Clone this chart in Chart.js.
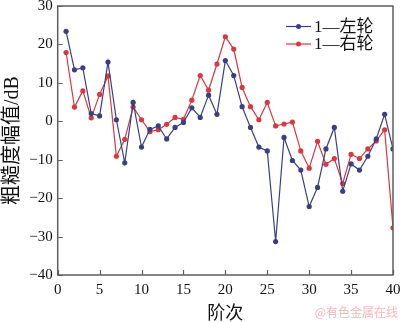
<!DOCTYPE html>
<html>
<head>
<meta charset="utf-8">
<script src="https://cdn.jsdelivr.net/npm/chart.js@4.4.1/dist/chart.umd.min.js"></script>
<style>
  html, body { margin: 0; padding: 0; background: #fff; }
  #wrap { width: 400px; height: 322px; position: relative; }
</style>
</head>
<body>
<div id="wrap"><canvas id="c" width="400" height="322"></canvas></div>
<script>
// Harmonic order (阶次)
const orders = [1, 2, 3, 4, 5, 6, 7, 8, 9, 10, 11, 12, 13, 14, 15, 16, 17, 18, 19, 20,
                21, 22, 23, 24, 25, 26, 27, 28, 29, 30, 31, 32, 33, 34, 35, 36, 37, 38, 39, 40];

// Roughness amplitude, dB — left wheel
const leftWheel = [23.4, 13.4, 13.9, 2.0, 1.4, 15.4, 0.4, -10.8, 4.9, -6.7,
                   -2.1, -1.2, -4.6, -1.6, -0.3, 3.5, 1.0, 6.8, 1.8, 15.8,
                   11.9, 3.8, -1.6, -6.7, -7.7, -31.3, -4.2, -10.2, -12.7, -22.2,
                   -17.2, -7.2, -1.6, -18.2, -11.1, -12.7, -9.1, -4.6, 1.8, -7.2];

// Roughness amplitude, dB — right wheel
const rightWheel = [17.9, 3.7, 7.9, 0.9, 7.0, 11.8, -9.1, -4.7, 3.7, 0.4,
                    -2.7, -2.2, -0.8, 1.0, 0.5, 5.5, 11.9, 8.1, 14.9, 22.0,
                    18.8, 8.8, 3.8, 0.4, 4.9, -1.2, -0.7, -0.2, -7.7, -12.2,
                    -5.2, -11.2, -9.7, -16.2, -8.6, -9.7, -7.2, -5.1, -2.2, -27.7];

const seriesNames = ['1—左轮', '1—右轮'];
const xTicks = [0, 5, 10, 15, 20, 25, 30, 35, 40];
const yTicks = [-40, -30, -20, -10, 0, 10, 20, 30];

const BLUE = '#3a3f82';
const RED = '#d8383f';
const FRAME = '#5e5e5e';
const SERIF = '"Liberation Serif", "Times New Roman", "Noto Sans CJK SC", serif';

const toPoints = (vals) => vals.map((v, i) => ({ x: orders[i], y: v }));

// Keep tick labels from pushing the plot area inward
const noEdgePadding = (s) => {
  s.paddingTop = 0; s.paddingBottom = 0; s.paddingLeft = 0; s.paddingRight = 0;
};

// Box frame, inward ticks, legend and source mark
const decorations = {
  id: 'decorations',
  afterDraw(chart) {
    const ctx = chart.ctx;
    const a = chart.chartArea;
    const xs = chart.scales.x, ys = chart.scales.y;
    ctx.save();
    ctx.strokeStyle = FRAME;
    ctx.lineWidth = 1.5;
    ctx.strokeRect(a.left, a.top, a.right - a.left, a.bottom - a.top);
    ctx.beginPath();
    xTicks.forEach(t => {
      const px = Math.round(xs.getPixelForValue(t)) + 0.5;
      ctx.moveTo(px, a.bottom);
      ctx.lineTo(px, a.bottom - 5);
    });
    yTicks.forEach(t => {
      const py = Math.round(ys.getPixelForValue(t)) + 0.5;
      ctx.moveTo(a.left, py);
      ctx.lineTo(a.left + 5, py);
    });
    ctx.lineWidth = 1.2;
    ctx.stroke();

    // legend
    const rows = [26.5, 44];
    chart.data.datasets.forEach((ds, i) => {
      const y = rows[i];
      ctx.strokeStyle = ds.borderColor;
      ctx.lineWidth = 1.2;
      ctx.beginPath();
      ctx.moveTo(286, y);
      ctx.lineTo(311, y);
      ctx.stroke();
      ctx.fillStyle = ds.borderColor;
      ctx.beginPath();
      ctx.arc(298.5, y, 2.5, 0, Math.PI * 2);
      ctx.fill();
      ctx.fillStyle = '#111';
      ctx.font = '17px ' + SERIF;
      ctx.textAlign = 'left';
      ctx.textBaseline = 'middle';
      ctx.fillText(ds.label, 314, y + 1);
    });

    // source mark
    ctx.fillStyle = '#f3b9b9';
    ctx.font = '12px "Noto Sans CJK SC", sans-serif';
    ctx.textAlign = 'right';
    ctx.textBaseline = 'middle';
    ctx.fillText('@有色金属在线', 398, 312);
    ctx.restore();
  }
};

new Chart(document.getElementById('c'), {
  type: 'line',
  data: {
    datasets: [
      {
        label: seriesNames[0],
        data: toPoints(leftWheel),
        borderColor: BLUE,
        backgroundColor: BLUE,
        borderWidth: 1.2,
        pointRadius: 2.6,
        pointBorderWidth: 0,
        tension: 0
      },
      {
        label: seriesNames[1],
        data: toPoints(rightWheel),
        borderColor: RED,
        backgroundColor: RED,
        borderWidth: 1.2,
        pointRadius: 2.6,
        pointBorderWidth: 0,
        tension: 0
      }
    ]
  },
  options: {
    responsive: false,
    animation: false,
    events: [],
    layout: { autoPadding: false, padding: { top: 6, right: 7, left: 0, bottom: 0 } },
    plugins: {
      legend: { display: false },
      tooltip: { enabled: false }
    },
    scales: {
      x: {
        type: 'linear',
        min: 0,
        max: 40,
        afterBuildTicks: (s) => { s.ticks = xTicks.map(v => ({ value: v })); },
        afterFit: (s) => { s.height = 47; noEdgePadding(s); },
        grid: { display: false, drawTicks: false },
        border: { display: false },
        ticks: {
          padding: 6,
          color: '#111',
          maxRotation: 0,
          font: { family: SERIF, size: 15 }
        },
        title: {
          display: true,
          text: '阶次',
          color: '#111',
          font: { family: SERIF, size: 18, lineHeight: 1 },
          padding: { top: 0, bottom: -1 }
        }
      },
      y: {
        min: -40,
        max: 30,
        afterBuildTicks: (s) => { s.ticks = yTicks.map(v => ({ value: v })); },
        afterFit: (s) => { s.width = 57.7; noEdgePadding(s); },
        grid: { display: false, drawTicks: false },
        border: { display: false },
        ticks: {
          padding: 5,
          color: '#111',
          font: { family: SERIF, size: 15 },
          callback: (v) => String(v).replace('-', '\u2212')
        },
        title: {
          display: true,
          text: '粗糙度幅值/dB',
          color: '#111',
          font: { family: SERIF, size: 20, lineHeight: 1 },
          padding: { top: 3, bottom: 0 }
        }
      }
    }
  },
  plugins: [decorations]
});
</script>
</body>
</html>
